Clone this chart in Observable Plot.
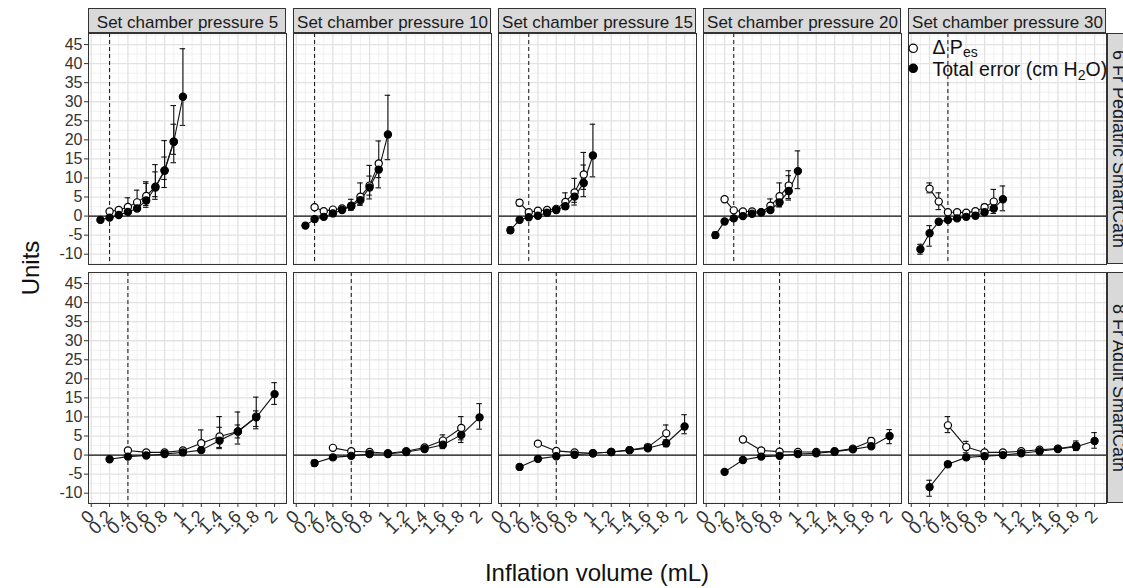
<!DOCTYPE html>
<html><head><meta charset="utf-8">
<script src="https://cdn.jsdelivr.net/npm/d3@7"></script>
<script src="https://cdn.jsdelivr.net/npm/@observablehq/plot@0.6"></script>
<style>
body{margin:0;background:#fff;}
#chart{position:relative;width:1123px;height:588px;}
</style>
</head><body><div id="chart"></div>
<script>
// ---------- data ----------
const pressures = [5, 10, 15, 20, 30];
const catheters = ["6 Fr Pediatric SmartCath", "8 Fr Adult SmartCath"];
const seriesNames = ["ΔPes", "Total error (cm H2O)"];
const stripLabels = ["Set chamber pressure 5", "Set chamber pressure 10", "Set chamber pressure 15", "Set chamber pressure 20", "Set chamber pressure 30"];

const xTicks = [0, 0.2, 0.4, 0.6, 0.8, 1, 1.2, 1.4, 1.6, 1.8, 2];
const xTickLabels = ["0", "0.2", "0.4", "0.6", "0.8", "1", "1.2", "1.4", "1.6", "1.8", "2"];
const xMinorTicks = [0.1, 0.3, 0.5, 0.7, 0.9, 1.1, 1.3, 1.5, 1.7, 1.9, 2.1];
const yTicks = [-10, -5, 0, 5, 10, 15, 20, 25, 30, 35, 40, 45];
const yTickLabels = ["-10", "-5", "0", "5", "10", "15", "20", "25", "30", "35", "40", "45"];
const yMinorTicks = [-12.5, -7.5, -2.5, 2.5, 7.5, 12.5, 17.5, 22.5, 27.5, 32.5, 37.5, 42.5, 47.5];

// inflation volumes (mL)
const pedVolume = [0.1, 0.2, 0.3, 0.4, 0.5, 0.6, 0.7, 0.8, 0.9, 1.0];
const adultVolume = [0.2, 0.4, 0.6, 0.8, 1.0, 1.2, 1.4, 1.6, 1.8, 2.0];

// dashed reference volume per pressure
const pedThreshold = [0.2, 0.2, 0.3, 0.3, 0.4];
const adultThreshold = [0.4, 0.6, 0.6, 0.8, 0.8];

// 6 Fr Pediatric: rows = pressures 5,10,15,20,30
const pedDeltaPes = [
  [null, 1.2, 1.6, 2.4, 3.6, 5.3, 7.7, 12.0, 19.5, null],
  [null, 2.3, 1.3, 1.7, 2.0, 2.7, 5.1, 8.0, 13.8, null],
  [null, 3.5, 1.0, 1.4, 1.6, 1.9, 3.7, 6.2, 10.9, null],
  [null, 4.4, 1.5, 1.2, 1.2, 1.0, 2.7, 5.2, 8.0, null],
  [null, 7.2, 3.8, 1.0, 1.0, 0.9, 1.3, 2.3, 3.8, null]
];
const pedDeltaPesLo = [
  [null, null, null, 0.5, 2.4, 2.8, 5.1, 9.6, 16.2, null],
  [null, null, null, null, null, 1.5, 3.1, 4.5, 7.4, null],
  [null, 2.7, null, null, null, null, 1.9, 2.9, 5.1, null],
  [null, null, null, null, null, null, 1.0, 2.4, 4.2, null],
  [null, 6.1, 1.7, null, null, null, null, 1.5, 0.7, null]
];
const pedDeltaPesHi = [
  [null, null, null, 4.8, 6.8, 8.6, 11.6, 15.5, 24.1, null],
  [null, null, null, null, null, 4.4, 8.7, 13.3, 19.7, null],
  [null, 4.3, null, null, null, null, 6.1, 9.9, 16.7, null],
  [null, null, null, null, null, null, 4.5, 8.7, 11.9, null],
  [null, 8.7, 6.1, null, null, null, null, 3.1, 7.0, null]
];
const pedTotal = [
  [-1.0, -0.4, 0.3, 1.1, 2.0, 4.1, 7.5, 11.9, 19.5, 31.3],
  [-2.5, -0.8, -0.2, 0.7, 1.6, 2.6, 4.2, 7.5, 12.2, 21.4],
  [-3.7, -1.0, -0.3, 0.1, 0.9, 1.6, 2.6, 5.1, 8.7, 15.9],
  [-5.0, -1.4, -0.6, 0.0, 0.6, 1.0, 1.6, 3.6, 6.6, 11.8],
  [-8.7, -4.5, -1.5, -1.0, -0.6, -0.2, 0.1, 1.0, 2.0, 4.4]
];
const pedTotalLo = [
  [null, null, null, null, null, 2.3, 4.4, 7.5, 14.0, 23.8],
  [null, null, null, null, null, 1.8, 2.8, 5.5, 10.1, 14.8],
  [-4.5, null, null, null, null, null, 1.8, 3.6, 7.0, 10.3],
  [-5.8, null, null, null, null, null, null, 2.5, 4.6, 7.2],
  [-10.0, -7.9, null, null, null, null, null, null, null, 1.4]
];
const pedTotalHi = [
  [null, null, null, null, null, 9.0, 13.5, 19.8, 29.0, 43.9],
  [null, null, null, null, null, 3.4, 5.6, 10.5, 14.3, 31.7],
  [-2.9, null, null, null, null, null, 3.4, 6.6, 13.4, 24.1],
  [-4.2, null, null, null, null, null, null, 4.8, 10.6, 17.1],
  [-7.4, -2.5, null, null, null, null, null, null, null, 7.9]
];

// 8 Fr Adult: rows = pressures 5,10,15,20,30
const adultDeltaPes = [
  [null, 1.2, 0.7, 0.7, 1.2, 3.1, 4.9, 6.2, 10.1, null],
  [null, 1.9, 1.0, 0.8, 0.5, 1.0, 2.0, 3.8, 7.1, null],
  [null, 3.0, 1.1, 0.7, 0.5, 0.8, 1.3, 2.1, 5.7, null],
  [null, 4.1, 1.2, 0.9, 0.8, 0.8, 1.0, 1.7, 3.7, null],
  [null, 7.8, 2.1, 0.7, 0.7, 1.0, 1.4, 1.7, 2.4, null]
];
const adultDeltaPesLo = [
  [null, null, null, null, null, 1.0, 2.0, 2.9, 6.9, null],
  [null, null, null, null, null, null, null, 1.7, 3.3, null],
  [null, null, null, null, null, null, null, null, 3.5, null],
  [null, null, null, null, null, null, null, null, 2.9, null],
  [null, 5.9, 0.6, null, null, null, null, null, 1.6, null]
];
const adultDeltaPesHi = [
  [null, null, null, null, null, 6.6, 10.1, 11.3, 15.2, null],
  [null, null, null, null, null, null, null, 5.3, 10.1, null],
  [null, null, null, null, null, null, null, null, 7.9, null],
  [null, null, null, null, null, null, null, null, 4.5, null],
  [null, 10.1, 3.6, null, null, null, null, null, 3.7, null]
];
const adultTotal = [
  [-1.1, -0.4, -0.1, 0.3, 0.7, 1.3, 3.8, 6.2, 9.9, 16.0],
  [-2.1, -0.6, -0.2, 0.3, 0.3, 0.8, 1.6, 2.7, 5.3, 9.9],
  [-3.1, -1.0, -0.3, 0.1, 0.5, 0.8, 1.3, 1.8, 3.1, 7.5],
  [-4.4, -1.3, -0.4, -0.2, 0.3, 0.5, 0.9, 1.5, 2.3, 5.0],
  [-8.4, -2.4, -0.6, -0.3, 0.0, 0.5, 1.0, 1.6, 2.2, 3.7]
];
const adultTotalLo = [
  [null, null, null, null, null, null, 1.7, 4.5, 7.5, 13.3],
  [-2.9, null, null, null, null, null, null, 2.0, 4.0, 6.8],
  [null, null, null, null, null, null, null, 1.2, 2.2, 5.6],
  [null, null, null, null, null, null, null, null, 1.9, 3.0],
  [-10.8, -3.2, null, null, null, null, null, null, 1.2, 1.8]
];
const adultTotalHi = [
  [null, null, null, null, null, null, 7.3, 7.9, 11.6, 19.0],
  [-1.3, null, null, null, null, null, null, 3.4, 6.6, 13.5],
  [null, null, null, null, null, null, null, 2.8, 4.0, 10.6],
  [null, null, null, null, null, null, null, null, 2.7, 6.7],
  [-6.6, -1.7, null, null, null, null, null, null, 3.2, 5.9]
];

// ---------- build table ----------
const rows = [];
function addSeries(cath, vols, series, vals, los, his) {
  pressures.forEach((p, pi) => {
    vals[pi].forEach((v, i) => {
      if (v == null) return;
      rows.push({cath, pressure: p, series, x: vols[i], y: v, lo: los[pi][i], hi: his[pi][i]});
    });
  });
}
addSeries(catheters[0], pedVolume, seriesNames[0], pedDeltaPes, pedDeltaPesLo, pedDeltaPesHi);
addSeries(catheters[0], pedVolume, seriesNames[1], pedTotal, pedTotalLo, pedTotalHi);
addSeries(catheters[1], adultVolume, seriesNames[0], adultDeltaPes, adultDeltaPesLo, adultDeltaPesHi);
addSeries(catheters[1], adultVolume, seriesNames[1], adultTotal, adultTotalLo, adultTotalHi);

const thresholds = [];
pressures.forEach((p, i) => {
  thresholds.push({cath: catheters[0], pressure: p, x: pedThreshold[i]});
  thresholds.push({cath: catheters[1], pressure: p, x: adultThreshold[i]});
});

const bars = rows.filter(d => d.lo != null && d.hi != null);
const openPts = rows.filter(d => d.series === seriesNames[0]);
const filledPts = rows.filter(d => d.series === seriesNames[1]);
const capHalf = 0.03;

const fontFam = "'Liberation Sans', Arial, Helvetica, sans-serif";

const chart = Plot.plot({
  width: 1123,
  height: 588,
  marginLeft: 86,
  marginRight: 16.3,
  marginTop: 33,
  marginBottom: 84,
  style: {fontFamily: fontFam, color: "#333", background: "white", overflow: "hidden"},
  fx: {domain: pressures, paddingInner: 0.036, paddingOuter: 0, label: null},
  fy: {domain: catheters, paddingInner: 0.0334, paddingOuter: 0, label: null},
  x: {domain: [-0.03, 2.13]},
  y: {domain: [-12.7, 47.9]},
  marks: [
    Plot.gridX(xMinorTicks, {stroke: "#ececec", strokeOpacity: 1, strokeWidth: 0.8}),
    Plot.gridY(yMinorTicks, {stroke: "#ececec", strokeOpacity: 1, strokeWidth: 0.8}),
    Plot.gridX(xTicks, {stroke: "#e2e2e2", strokeOpacity: 1, strokeWidth: 1.3}),
    Plot.gridY(yTicks, {stroke: "#e2e2e2", strokeOpacity: 1, strokeWidth: 1.3}),
    Plot.ruleY([0], {stroke: "#111", strokeWidth: 1.1}),
    Plot.ruleX(thresholds, {x: "x", fx: "pressure", fy: "cath", stroke: "#111", strokeWidth: 1, strokeDasharray: "4,3"}),
    Plot.ruleX(bars, {x: "x", y1: "lo", y2: "hi", fx: "pressure", fy: "cath", stroke: "#111", strokeWidth: 1.1}),
    Plot.ruleY(bars, {y: "lo", x1: d => d.x - capHalf, x2: d => d.x + capHalf, fx: "pressure", fy: "cath", stroke: "#111", strokeWidth: 1.1}),
    Plot.ruleY(bars, {y: "hi", x1: d => d.x - capHalf, x2: d => d.x + capHalf, fx: "pressure", fy: "cath", stroke: "#111", strokeWidth: 1.1}),
    Plot.line(rows, {x: "x", y: "y", z: "series", fx: "pressure", fy: "cath", stroke: "#111", strokeWidth: 1.1}),
    Plot.dot(openPts, {x: "x", y: "y", fx: "pressure", fy: "cath", r: 3.6, fill: "white", stroke: "#000", strokeWidth: 1.2}),
    Plot.dot(filledPts, {x: "x", y: "y", fx: "pressure", fy: "cath", r: 3.6, fill: "#000", stroke: "#000", strokeWidth: 1.2}),
    Plot.frame({stroke: "#333", strokeWidth: 1}),
    Plot.axisY(yTicks, {tickFormat: d => yTickLabels[yTicks.indexOf(d)], tickSize: 4, tickPadding: 2, fontSize: 16, label: null, color: "#333"}),
    Plot.axisX(xTicks, {tickFormat: d => xTickLabels[xTicks.indexOf(d)], tickRotate: -45, tickSize: 4, tickPadding: 6, fontSize: 18, label: null, color: "#333"}),
    Plot.axisFx({anchor: "top", tickSize: 0, tickPadding: 6, fontSize: 17, label: null, fill: "#1a1a1a", tickFormat: p => stripLabels[pressures.indexOf(p)]}),
    Plot.axisFy({anchor: "right", tickSize: 0, tickRotate: 90, tickPadding: 6, fontSize: 18, textAnchor: "middle", lineAnchor: "bottom", label: null, fill: "#1a1a1a"})
  ]
});

// ---------- strips, titles, legend ----------
const svg = d3.select(chart);
const fxS = chart.scale("fx"), fyS = chart.scale("fy");
const bw = fxS.bandwidth, bh = fyS.bandwidth;
const stripH = 25;
const stripG = svg.insert("g", ":first-child");
pressures.forEach(p => {
  stripG.append("rect")
    .attr("x", fxS.apply(p) + 0.5).attr("y", fyS.apply(catheters[0]) - stripH + 0.5)
    .attr("width", bw - 1).attr("height", stripH - 1)
    .attr("fill", "#d9d9d9").attr("stroke", "#333").attr("stroke-width", 1);
});
catheters.forEach(c => {
  stripG.append("rect")
    .attr("x", fxS.apply(pressures[pressures.length - 1]) + bw + 1.5).attr("y", fyS.apply(c) + 0.5)
    .attr("width", 24).attr("height", bh - 1)
    .attr("fill", "#d9d9d9").attr("stroke", "#333").attr("stroke-width", 1);
});

const x0 = fxS.apply(pressures[0]);
const x1 = fxS.apply(pressures[pressures.length - 1]) + bw;
svg.append("text").attr("x", (x0 + x1) / 2).attr("y", 581)
  .attr("text-anchor", "middle").attr("font-size", 24).attr("fill", "#111")
  .attr("font-family", fontFam).text("Inflation volume (mL)");
const yTop = fyS.apply(catheters[0]), yBot = fyS.apply(catheters[1]) + bh;
svg.append("text").attr("transform", `translate(39,${(yTop + yBot) / 2}) rotate(-90)`)
  .attr("text-anchor", "middle").attr("font-size", 24).attr("fill", "#111")
  .attr("font-family", fontFam).text("Units");

// legend in top-right panel
const lg = svg.append("g").attr("transform", `translate(${fxS.apply(pressures[pressures.length - 1])},${yTop})`)
  .attr("font-family", fontFam).attr("font-size", 19.5).attr("fill", "#111").attr("text-anchor", "start");
lg.append("circle").attr("cx", 5.2).attr("cy", 15.3).attr("r", 4.2).attr("fill", "white").attr("stroke", "#000").attr("stroke-width", 1.2);
lg.append("circle").attr("cx", 5.2).attr("cy", 35.3).attr("r", 4.2).attr("fill", "#000").attr("stroke", "#000").attr("stroke-width", 1.2);
const t1 = lg.append("text").attr("x", 24.5).attr("y", 20.5).attr("text-anchor", "start");
t1.append("tspan").text("Δ P");
t1.append("tspan").attr("dy", 3.5).attr("font-size", 14).text("es");
const t2 = lg.append("text").attr("x", 24.5).attr("y", 42.5).attr("text-anchor", "start");
t2.append("tspan").text("Total error (cm H");
t2.append("tspan").attr("dy", 4).attr("font-size", 14).text("2");
t2.append("tspan").attr("dy", -4).text("O)");

document.getElementById("chart").appendChild(chart);
</script></body></html>
